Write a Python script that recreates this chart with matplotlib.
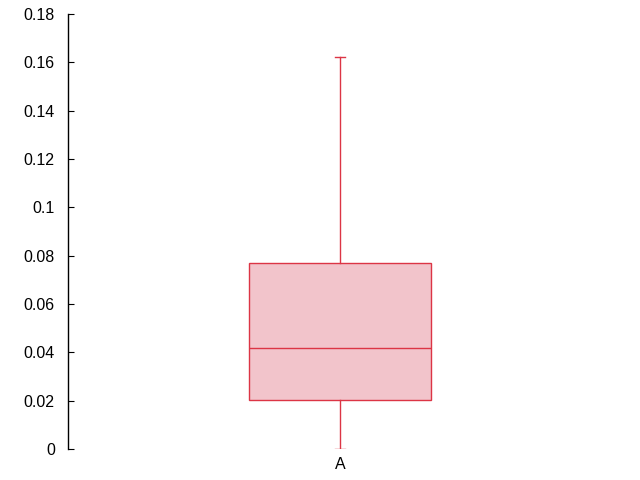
import matplotlib.pyplot as plt

plt.rcParams['font.family'] = ['Liberation Sans', 'DejaVu Sans']

# box statistics
labels = ['A']
whislo = [0.0]
q1 = [0.0203]
med = [0.0418]
q3 = [0.0770]
whishi = [0.1622]

edge = '#dc3545'
fill = '#f2c4cb'

stats = []
for i in range(len(labels)):
    stats.append({'label': labels[i], 'whislo': whislo[i], 'q1': q1[i],
                  'med': med[i], 'q3': q3[i], 'whishi': whishi[i], 'fliers': []})

fig = plt.figure(figsize=(6.4, 4.8), dpi=100)
ax = fig.add_axes([68 / 640, 31 / 480, 544 / 640, 435 / 480])

ax.bxp(stats, positions=[1], widths=0.335, patch_artist=True, showfliers=False,
       boxprops=dict(facecolor=fill, edgecolor=edge, linewidth=1),
       medianprops=dict(color=edge, linewidth=1),
       whiskerprops=dict(color=edge, linewidth=1),
       capprops=dict(color=edge, linewidth=1),
       capwidths=0.017)

ax.set_xlim(0.5, 1.5)
ax.set_ylim(0, 0.18)
ax.set_yticks([0, 0.02, 0.04, 0.06, 0.08, 0.1, 0.12, 0.14, 0.16, 0.18])
ax.set_yticklabels(['0', '0.02', '0.04', '0.06', '0.08', '0.1', '0.12', '0.14', '0.16', '0.18'])

for s in ['top', 'right', 'bottom']:
    ax.spines[s].set_visible(False)
ax.spines['left'].set_linewidth(1)
ax.tick_params(axis='y', direction='in', length=4, pad=9.5, labelsize=11.5)
ax.tick_params(axis='x', length=0, pad=6, labelsize=11.5)

fig.savefig('out.png', dpi=100)
